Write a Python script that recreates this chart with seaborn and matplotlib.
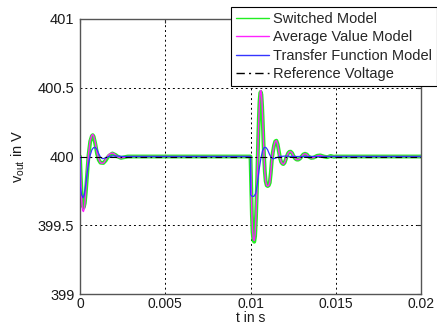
import numpy as np
import pandas as pd
import matplotlib
matplotlib.use("Agg")
import matplotlib.pyplot as plt
import seaborn as sns

# ---- data: output voltage after two load steps (t = 0 and t = 0.01 s) ----
t_switched = [0.0, 0.00005, 0.0001, 0.00016, 0.00022, 0.00028, 0.00034, 0.0004, 0.0005,
              0.0006, 0.0007, 0.00075, 0.0008, 0.0009, 0.001, 0.0011, 0.0012, 0.00137,
              0.0015, 0.0016, 0.0017, 0.0019, 0.0021, 0.0022, 0.0024, 0.0026, 0.0028,
              0.01, 0.01004, 0.01008, 0.01012, 0.01017, 0.01022, 0.01027, 0.01032, 0.01037,
              0.01041, 0.01045, 0.01049, 0.01053, 0.01057, 0.0106, 0.01064, 0.01068, 0.01072,
              0.01076, 0.0108, 0.01084, 0.01089, 0.01095, 0.01101, 0.01107, 0.01113, 0.01119,
              0.01125, 0.01131, 0.01138, 0.01145, 0.01152, 0.01159, 0.01166, 0.01173, 0.0118,
              0.01187, 0.01193, 0.012, 0.01207, 0.01214, 0.01221, 0.01228, 0.01236, 0.01244,
              0.01252, 0.0126, 0.0127, 0.0128, 0.0129, 0.013, 0.0131, 0.0132, 0.0133, 0.0134,
              0.01355, 0.0137, 0.0139, 0.0141, 0.0143, 0.0145, 0.0147, 0.0149, 0.015, 0.02]
v_switched = [400.0, 399.84, 399.71, 399.64, 399.63, 399.66, 399.74, 399.84, 400.01,
              400.11, 400.15, 400.155, 400.145, 400.09, 400.02, 399.975, 399.955, 399.953,
              399.97, 399.99, 400.005, 400.022, 400.01, 400.0, 399.99, 399.995, 400.0,
              400.0, 399.79, 399.58, 399.45, 399.39, 399.38, 399.42, 399.55, 399.74,
              399.93, 400.12, 400.28, 400.40, 400.46, 400.47, 400.45, 400.37, 400.25,
              400.11, 399.99, 399.89, 399.82, 399.79, 399.785, 399.79, 399.81, 399.88,
              399.97, 400.03, 400.08, 400.11, 400.115, 400.09, 400.04, 399.99, 399.96,
              399.948, 399.945, 399.955, 399.98, 400.005, 400.025, 400.034, 400.035, 400.025,
              400.005, 399.988, 399.978, 399.977, 399.985, 400.0, 400.015, 400.02, 400.015, 400.0,
              399.99, 399.992, 400.005, 400.008, 400.0, 399.995, 400.004, 399.998, 400.0, 400.0]

t_average = [0.0, 0.00005, 0.0001, 0.00015, 0.0002, 0.00025, 0.0003, 0.0004, 0.0005,
             0.0006, 0.0007, 0.00075, 0.0008, 0.0009, 0.001, 0.0011, 0.0012, 0.0013,
             0.0014, 0.0015, 0.0016, 0.0017, 0.0018, 0.0019, 0.002, 0.0021, 0.0022,
             0.0023, 0.0024, 0.0026, 0.0028,
             0.01, 0.01004, 0.01008, 0.01012, 0.01017, 0.01022, 0.01027, 0.01032, 0.01037,
             0.01041, 0.01045, 0.01049, 0.01053, 0.01057, 0.0106, 0.01064, 0.01068, 0.01072,
             0.01076, 0.0108, 0.01084, 0.01089, 0.01095, 0.01101, 0.01107, 0.01113, 0.01119,
             0.01125, 0.01131, 0.01138, 0.01145, 0.01152, 0.01159, 0.01166, 0.01173, 0.0118,
             0.01187, 0.01193, 0.012, 0.01207, 0.01214, 0.01221, 0.01228, 0.01236, 0.01244,
             0.01252, 0.0126, 0.0127, 0.0128, 0.0129, 0.013, 0.0131, 0.0132, 0.0133, 0.0134,
             0.01355, 0.0137, 0.0139, 0.0141, 0.0143, 0.015, 0.02]
v_average = [400.0, 399.82, 399.68, 399.61, 399.60, 399.62, 399.68, 399.86, 400.02,
             400.12, 400.155, 400.16, 400.15, 400.10, 400.03, 399.98, 399.955, 399.95,
             399.955, 399.975, 400.0, 400.015, 400.022, 400.025, 400.02, 400.01, 400.0,
             399.993, 399.99, 399.995, 400.0,
             400.0, 399.78, 399.58, 399.46, 399.40, 399.39, 399.43, 399.56, 399.74,
             399.93, 400.12, 400.28, 400.40, 400.47, 400.48, 400.46, 400.38, 400.26,
             400.12, 399.99, 399.89, 399.82, 399.79, 399.785, 399.79, 399.81, 399.88,
             399.97, 400.03, 400.08, 400.11, 400.115, 400.09, 400.04, 399.99, 399.96,
             399.948, 399.945, 399.955, 399.98, 400.005, 400.025, 400.034, 400.035, 400.025,
             400.005, 399.988, 399.978, 399.977, 399.985, 400.0, 400.015, 400.02, 400.015, 400.0,
             399.99, 399.992, 400.005, 400.008, 400.0, 400.0, 400.0]

t_transfer = [0.0, 0.00001, 0.0001, 0.00018, 0.00025, 0.0003, 0.0004, 0.0005, 0.0006,
              0.0007, 0.0008, 0.0009, 0.001, 0.0011, 0.0012, 0.0013, 0.0014, 0.0015,
              0.0017, 0.002, 0.0025,
              0.01, 0.01001, 0.0101, 0.0102, 0.0103, 0.0104, 0.0105, 0.0106, 0.0107,
              0.0108, 0.0109, 0.011, 0.0111, 0.0112, 0.0113, 0.0114, 0.0115, 0.0117,
              0.012, 0.0125, 0.02]
v_transfer = [400.0, 399.78, 399.72, 399.70, 399.72, 399.76, 399.86, 399.95, 400.01,
              400.05, 400.065, 400.065, 400.05, 400.02, 399.995, 399.985, 399.985, 399.99,
              400.0, 400.005, 400.0,
              400.0, 399.72, 399.71, 399.71, 399.73, 399.80, 399.90, 399.98, 400.04,
              400.065, 400.066, 400.05, 400.02, 399.995, 399.985, 399.985, 399.99, 400.0,
              400.003, 400.0, 400.0]

t_reference = [0.0, 0.02]
v_reference = [400.0, 400.0]

x_ticks = [0, 0.005, 0.01, 0.015, 0.02]
x_tick_labels = ["0", "0.005", "0.01", "0.015", "0.02"]
y_ticks = [399, 399.5, 400, 400.5, 401]
y_tick_labels = ["399", "399.5", "400", "400.5", "401"]

df_sw = pd.DataFrame({"t": t_switched, "v": v_switched})
df_av = pd.DataFrame({"t": t_average, "v": v_average})
df_tf = pd.DataFrame({"t": t_transfer, "v": v_transfer})
df_ref = pd.DataFrame({"t": t_reference, "v": v_reference})

sns.set_style("white")
plt.rcParams["font.family"] = ["Liberation Sans", "DejaVu Sans"]
plt.rcParams["mathtext.fontset"] = "custom"
plt.rcParams["mathtext.rm"] = "Liberation Sans"
plt.rcParams["mathtext.it"] = "Liberation Sans"

fig = plt.figure(figsize=(4.37, 3.29), dpi=100)
ax = fig.add_axes([80 / 437, 1 - 294 / 329, (421 - 80) / 437, (294 - 19) / 329])

sns.lineplot(data=df_sw, x="t", y="v", ax=ax, color="#22ee22", linewidth=2.8,
             estimator=None, label="Switched Model", zorder=2)
sns.lineplot(data=df_av, x="t", y="v", ax=ax, color="#ff22ff", linewidth=1.0,
             estimator=None, label="Average Value Model", zorder=3)
sns.lineplot(data=df_tf, x="t", y="v", ax=ax, color="#3535ff", linewidth=0.9,
             estimator=None, label="Transfer Function Model", zorder=4)
sns.lineplot(data=df_ref, x="t", y="v", ax=ax, color="black", linewidth=0.8,
             estimator=None, label="Reference Voltage", zorder=5)
ax.lines[-1].set_dashes([6, 3, 1.5, 3])

ax.set_xlim(0, 0.02)
ax.set_ylim(399, 401)
ax.set_xticks(x_ticks)
ax.set_xticklabels(x_tick_labels)
ax.set_yticks(y_ticks)
ax.set_yticklabels(y_tick_labels)
ax.tick_params(direction="in", length=3, width=0.8, labelsize=10.5, pad=4,
               top=True, right=True, colors="#333333", labelcolor="#1a1a1a")
ax.tick_params(axis="x", labelsize=10, pad=2.5)

ax.grid(True, color="black", linestyle=(0, (2, 3)), linewidth=0.7)
ax.set_axisbelow(True)
for side, sp in ax.spines.items():
    sp.set_color("#555555")
    sp.set_linewidth(1.0)

ax.set_xlabel("t in s", fontsize=10, labelpad=-0.5, color="#1a1a1a")
ax.set_ylabel(r"v$_{\mathrm{out}}$ in V", fontsize=10.5, labelpad=8, color="#1a1a1a")

handles, labels = ax.get_legend_handles_labels()
ax.get_legend().remove()
leg = fig.legend(handles, labels, loc="upper right", bbox_to_anchor=(1.0, 1 - 7 / 329),
                 fontsize=10.5, frameon=True, fancybox=False, framealpha=1,
                 edgecolor="black", borderpad=0.35, labelspacing=0.3,
                 handlelength=2.3, handletextpad=0.25, borderaxespad=0)
leg.get_frame().set_linewidth(0.8)
for h in leg.legend_handles:
    h.set_linewidth(1.0)

fig.savefig("out.png", dpi=100)
